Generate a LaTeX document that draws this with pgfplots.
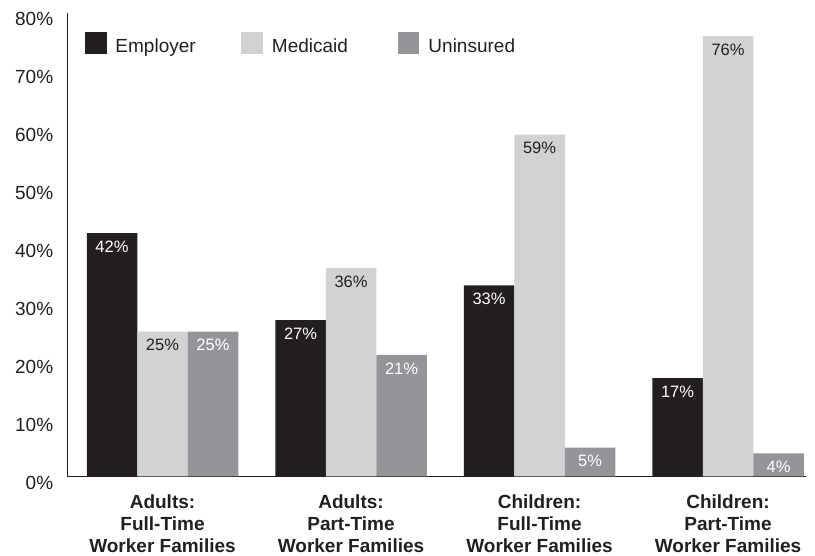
\documentclass[border=0pt]{standalone}
\usepackage{pgfplots}
\pgfplotsset{compat=1.18}
\usepackage{fontspec}
\setmainfont{Liberation Sans}
\definecolor{emp}{HTML}{231F20}
\definecolor{med}{HTML}{D1D2D4}
\definecolor{uni}{HTML}{939598}
\definecolor{txt}{HTML}{231F20}
\pgfplotsset{sqlegend/.style={legend image code/.code={\fill[##1] (0pt,-1.5pt) rectangle (21.5pt,20pt);}}}
\begin{document}
\begin{tikzpicture}
\useasboundingbox (0,0) rectangle (815pt,556pt);
\begin{axis}[
  at={(67.2pt,79.5pt)}, anchor=south west,
  scale only axis, width=738.3pt, height=463.5pt,
  xmin=-0.5056, xmax=3.411, ymin=0, ymax=80,
  ybar=0pt, bar width=50.5pt,
  axis x line*=bottom, axis y line*=left,
  axis line style={-, line width=1.2pt, draw=txt},
  major tick length=0pt,
  xtick={0,1,2,3},
  xticklabels={{Adults:\\Full-Time\\Worker Families},{Adults:\\Part-Time\\Worker Families},{Children:\\Full-Time\\Worker Families},{Children:\\Part-Time\\Worker Families}},
  xticklabel style={align=center, font=\fontsize{19}{22}\selectfont\bfseries, text=txt, yshift=-15pt},
  ytick={0,10,...,80},
  yticklabel={\pgfmathprintnumber{\tick}\%},
  yticklabel style={font=\fontsize{19}{22}\selectfont, text=txt, xshift=-10.5pt, yshift=-6pt},
  /pgf/number format/assume math mode=true,
  nodes near coords={\pgfmathprintnumber{\pgfplotspointmeta}\%},
  every node near coord/.append style={anchor=center, yshift=-13.5pt, font=\fontsize{16.5}{18}\selectfont},
  legend columns=3,
  legend cell align=left,
  legend style={at={(0,1)}, anchor=north west, xshift=17.8pt, yshift=-19.3pt, draw=none, fill=none, inner sep=0pt, outer sep=0pt,
    cells={anchor=base west},
    nodes={inner sep=0pt, font=\fontsize{19}{22}\selectfont, text=txt},
    /tikz/every odd column/.append style={column sep=9pt}},
]
\addplot[fill=emp, draw=none, sqlegend, every node near coord/.append style={text=white}] coordinates {(0,42) (1,27) (2,33) (3,17)};
\addplot[fill=med, draw=none, sqlegend, every node near coord/.append style={text=txt}] coordinates {(0,25) (1,36) (2,59) (3,76)};
\addplot[fill=uni, draw=none, sqlegend, every node near coord/.append style={text=white}] coordinates {(0,25) (1,21) (2,5) (3,4)};
\legend{\makebox[126pt][l]{Employer},\makebox[126pt][l]{Medicaid},Uninsured}
\end{axis}
\end{tikzpicture}
\end{document}
